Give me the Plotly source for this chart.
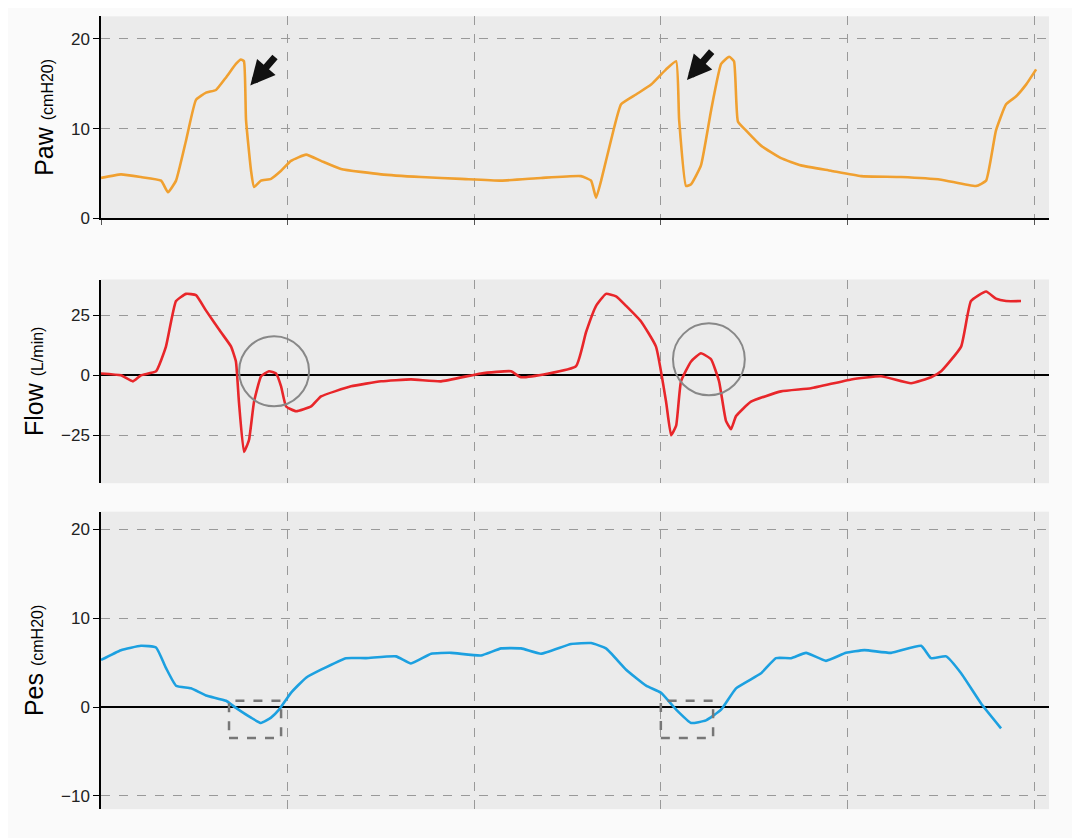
import plotly.graph_objects as go
from plotly.subplots import make_subplots

# time axis in grid units (one dashed grid column = 1)
paw_t = [0, .107, .214, .322, .359, .402, .456, .509, .563, .616, .670, .723, .750, .766, .777, .804, .820, .857, .911, .965, 1.018, 1.099, 1.179, 1.286, 1.501, 1.715, 1.929, 2.144, 2.358, 2.572, 2.626, 2.653, 2.680, 2.733, 2.787, 2.867, 2.948, 3.028, 3.082, 3.098, 3.135, 3.162, 3.215, 3.269, 3.323, 3.366, 3.392, 3.413, 3.456, 3.537, 3.644, 3.751, 3.912, 4.073, 4.287, 4.502, 4.689, 4.743, 4.796, 4.850, 4.904, 4.957, 5.011]
paw = [4.5, 4.9, 4.6, 4.2, 2.9, 4.2, 8.7, 13.2, 14.0, 14.3, 15.7, 17.2, 17.7, 17.5, 11.0, 5.3, 3.5, 4.2, 4.4, 5.3, 6.4, 7.1, 6.4, 5.5, 4.9, 4.6, 4.4, 4.2, 4.5, 4.7, 4.2, 2.3, 4.2, 8.7, 12.7, 13.8, 14.9, 16.6, 17.5, 11.0, 3.6, 3.8, 5.9, 12.0, 17.2, 18.0, 17.5, 10.8, 9.8, 8.1, 6.7, 5.9, 5.3, 4.7, 4.6, 4.3, 3.6, 4.2, 9.8, 12.7, 13.6, 14.9, 16.6]

flow_t = [0, .107, .171, .214, .295, .348, .402, .456, .509, .563, .643, .697, .723, .739, .766, .793, .820, .858, .900, .938, .965, .992, 1.045, 1.126, 1.179, 1.340, 1.501, 1.661, 1.822, 2.036, 2.197, 2.251, 2.545, 2.599, 2.653, 2.706, 2.760, 2.814, 2.894, 2.974, 3.028, 3.055, 3.082, 3.108, 3.162, 3.215, 3.269, 3.312, 3.349, 3.376, 3.403, 3.483, 3.644, 3.805, 4.020, 4.180, 4.341, 4.448, 4.502, 4.609, 4.662, 4.743, 4.796, 4.850, 4.930]
flow = [0.8, 0, -2.5, 0, 1.7, 12, 31, 34, 33.5, 27, 18, 12, 5.8, -11, -32, -27, -11, -0.4, 1.7, 0.8, -4.6, -13, -15, -13, -8.8, -4.6, -2.5, -1.7, -2.5, 0.8, 1.7, -0.8, 3.8, 18, 29, 34, 33, 29, 22.5, 12, -11, -25, -21, -2.5, 5.8, 9.2, 6.7, -2.5, -19, -22.5, -17, -11, -6.7, -5.4, -1.7, -0.4, -3.3, -0.8, 1.7, 12, 31, 35, 32, 31, 31]

pes_t = [0, .107, .214, .295, .348, .402, .482, .563, .670, .723, .804, .857, .911, .954, 1.018, 1.099, 1.179, 1.313, 1.420, 1.581, 1.661, 1.769, 1.876, 2.036, 2.144, 2.251, 2.358, 2.519, 2.626, 2.706, 2.814, 2.921, 3.001, 3.082, 3.162, 3.242, 3.323, 3.403, 3.537, 3.617, 3.698, 3.778, 3.885, 3.992, 4.091, 4.234, 4.395, 4.448, 4.529, 4.609, 4.716, 4.823]
pes = [5.3, 6.4, 6.9, 6.7, 4.4, 2.4, 2.1, 1.3, 0.7, -0.1, -1.2, -1.8, -1.2, -0.3, 1.6, 3.3, 4.2, 5.5, 5.5, 5.7, 4.9, 6.0, 6.1, 5.8, 6.6, 6.6, 6.0, 7.1, 7.2, 6.6, 4.2, 2.4, 1.6, -0.3, -1.8, -1.5, -0.3, 2.1, 3.8, 5.5, 5.5, 6.1, 5.2, 6.1, 6.4, 6.1, 6.9, 5.5, 5.7, 3.8, 0.4, -2.4]

fig = make_subplots(rows=3, cols=1)
fig.add_trace(go.Scatter(x=paw_t, y=paw, mode="lines", line=dict(color="#f0a030", width=2.6, shape="spline", smoothing=0.4)), 1, 1)
fig.add_trace(go.Scatter(x=flow_t, y=flow, mode="lines", line=dict(color="#e8262a", width=2.6, shape="spline", smoothing=0.4)), 2, 1)
fig.add_trace(go.Scatter(x=pes_t, y=pes, mode="lines", line=dict(color="#1ca0e0", width=2.6, shape="spline", smoothing=0.4)), 3, 1)

doms = [[0.749, 0.99], [0.433, 0.676], [0.044, 0.399]]
titles = ["Paw <span style='font-size:16px'>(cmH20)</span>",
          "Flow <span style='font-size:16px'>(L/min)</span>",
          "Pes <span style='font-size:16px'>(cmH20)</span>"]
yr = [[0, 22.5], [-45, 40], [-11.5, 22]]
ytv = [[0, 10, 20], [-25, 0, 25], [-10, 0, 10, 20]]
for i in range(3):
    fig.update_xaxes(row=i + 1, col=1, range=[0, 5.08], dtick=1, showticklabels=False,
                     showgrid=True, gridcolor="#999", griddash="dash", gridwidth=1,
                     zeroline=False, showline=(i == 0), linecolor="black", linewidth=2,
                     ticks="outside" if i == 0 else "", tickcolor="#555", ticklen=5)
    fig.update_yaxes(row=i + 1, col=1, domain=doms[i], range=yr[i], tickvals=ytv[i],
                     showgrid=True, gridcolor="#999", griddash="dash", gridwidth=1,
                     zeroline=(i > 0), zerolinecolor="black", zerolinewidth=2,
                     showline=True, linecolor="black", linewidth=1.5,
                     ticks="outside", tickcolor="black", ticklen=6, automargin=False,
                     title=dict(text=titles[i], font=dict(size=25, color="black"), standoff=10),
                     tickfont=dict(size=17, color="#222"))

# annotation marks
fig.add_shape(type="circle", xref="x2", yref="y2", x0=0.74, x1=1.115, y0=-12.9, y1=16.3, line=dict(color="#888", width=2))
fig.add_shape(type="circle", xref="x2", yref="y2", x0=3.065, x1=3.45, y0=-8.3, y1=21.7, line=dict(color="#888", width=2))
fig.add_shape(type="rect", xref="x3", yref="y3", x0=0.686, x1=0.965, y0=-3.5, y1=0.7, line=dict(color="#777", width=2.5, dash="dash"))
fig.add_shape(type="rect", xref="x3", yref="y3", x0=3.0, x1=3.28, y0=-3.5, y1=0.7, line=dict(color="#777", width=2.5, dash="dash"))
for x, y in [(0.80, 14.8), (3.14, 15.4)]:
    fig.add_annotation(xref="x", yref="y", x=x, y=y, ax=26, ay=-30,
                       showarrow=True, arrowhead=2, arrowsize=0.7, arrowwidth=7, arrowcolor="#111", text="")

fig.update_layout(width=1080, height=838, showlegend=False, plot_bgcolor="#ebebeb", paper_bgcolor="#fafafa",
                  margin=dict(l=93, r=39, t=0, b=0), font=dict(family="Liberation Sans"))
fig.write_html("out.html")
